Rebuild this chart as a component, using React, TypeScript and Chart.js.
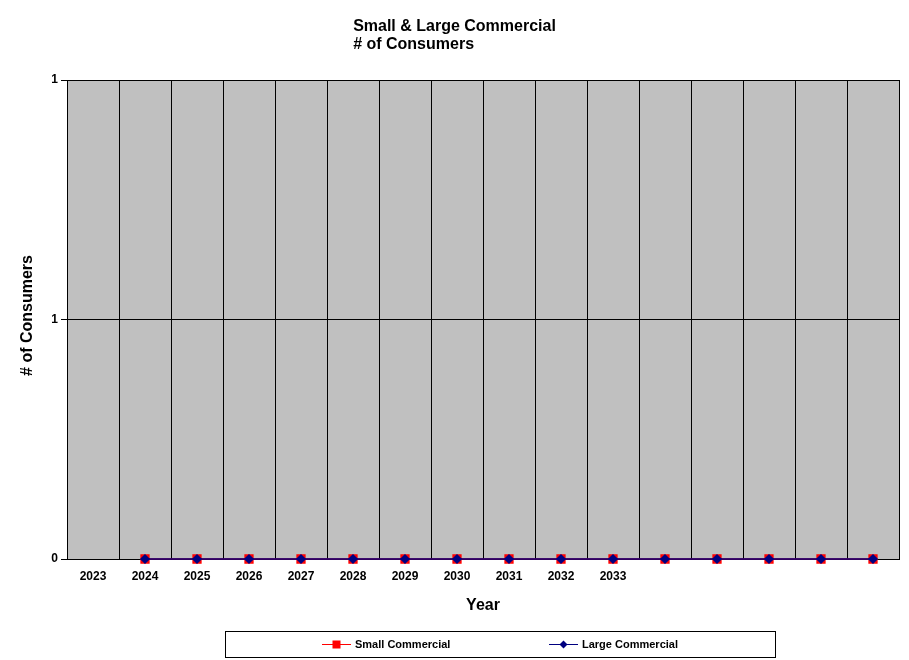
import React, { useEffect, useRef } from "react";
import { Chart, registerables } from "chart.js";

Chart.register(...registerables);

const categories = ["2023", "2024", "2025", "2026", "2027", "2028", "2029", "2030", "2031", "2032", "2033", "", "", "", "", ""];
const smallCommercial = [null, 0, 0, 0, 0, 0, 0, 0, 0, 0, 0, 0, 0, 0, 0, 0];
const largeCommercial = [null, 0, 0, 0, 0, 0, 0, 0, 0, 0, 0, 0, 0, 0, 0, 0];
const titleLines = ["Small & Large Commercial", "# of Consumers"];
const xTitle = "Year";
const yTitle = "# of Consumers";
const seriesNames = ["Small Commercial", "Large Commercial"];
const seriesColors = ["#FF0000", "#000080"];

const FONT = "'Liberation Sans', Arial, sans-serif";

const decorPlugin = {
  id: "decor",
  beforeDraw(chart: any) {
    const { ctx, chartArea } = chart;
    ctx.save();
    ctx.fillStyle = "#FFFFFF";
    ctx.fillRect(0, 0, chart.width, chart.height);
    ctx.fillStyle = "#C0C0C0";
    ctx.fillRect(chartArea.left, chartArea.top, chartArea.right - chartArea.left, chartArea.bottom - chartArea.top);
    ctx.restore();
  },
  afterDraw(chart: any) {
    const { ctx, chartArea } = chart;
    ctx.save();
    ctx.fillStyle = "#000";
    ctx.font = `bold 16px ${FONT}`;
    const w = Math.max(...titleLines.map((t) => ctx.measureText(t).width));
    const tx = chart.width / 2 - w / 2;
    ctx.textAlign = "left";
    ctx.textBaseline = "middle";
    titleLines.forEach((t, i) => ctx.fillText(t, tx, 27 + i * 18));

    ctx.textAlign = "center";
    ctx.fillText(xTitle, (chartArea.left + chartArea.right) / 2, chartArea.bottom + 47);

    ctx.save();
    ctx.translate(28, (chartArea.top + chartArea.bottom) / 2 - 4);
    ctx.rotate(-Math.PI / 2);
    ctx.fillText(yTitle, 0, 0);
    ctx.restore();

    const bx = 225.5, by = 631.5, bw = 550, bh = 26;
    ctx.strokeStyle = "#000";
    ctx.lineWidth = 1;
    ctx.strokeRect(bx, by, bw, bh);
    ctx.font = `bold 11px ${FONT}`;
    ctx.textAlign = "left";
    const cy = by + bh / 2;
    const starts = [322, 549];
    seriesNames.forEach((name, i) => {
      const x0 = starts[i];
      ctx.strokeStyle = seriesColors[i];
      ctx.lineWidth = 1;
      ctx.beginPath();
      ctx.moveTo(x0, cy);
      ctx.lineTo(x0 + 29, cy);
      ctx.stroke();
      ctx.fillStyle = seriesColors[i];
      const mx = x0 + 14.5;
      if (i === 0) {
        ctx.fillRect(mx - 4, cy - 4, 8, 8);
      } else {
        ctx.beginPath();
        ctx.moveTo(mx, cy - 4);
        ctx.lineTo(mx + 4, cy);
        ctx.lineTo(mx, cy + 4);
        ctx.lineTo(mx - 4, cy);
        ctx.closePath();
        ctx.fill();
      }
      ctx.fillStyle = "#000";
      ctx.fillText(name, x0 + 33, cy + 0.5);
    });
    ctx.restore();
  },
};

export default function App() {
  const ref = useRef<HTMLCanvasElement | null>(null);
  useEffect(() => {
    if (!ref.current) return;
    const chart = new Chart(ref.current, {
      type: "line",
      data: {
        labels: categories,
        datasets: [
          {
            label: seriesNames[0],
            data: smallCommercial,
            borderColor: seriesColors[0],
            backgroundColor: seriesColors[0],
            pointBackgroundColor: seriesColors[0],
            pointBorderColor: seriesColors[0],
            pointStyle: "rect",
            pointRadius: 5.5,
            borderWidth: 1.5,
            clip: false,
            order: 2,
          } as any,
          {
            label: seriesNames[1],
            data: largeCommercial,
            borderColor: seriesColors[1],
            backgroundColor: seriesColors[1],
            pointBackgroundColor: seriesColors[1],
            pointBorderColor: seriesColors[1],
            pointStyle: "rectRot",
            pointRadius: 4,
            borderWidth: 1.5,
            clip: false,
            order: 1,
          } as any,
        ],
      },
      options: {
        animation: false,
        responsive: true,
        maintainAspectRatio: false,
        layout: { padding: { top: 80, right: 10, left: 0, bottom: 0 } },
        plugins: {
          legend: { display: false },
          title: { display: false },
          tooltip: { enabled: false },
        },
        scales: {
          x: {
            type: "category",
            offset: true,
            grid: { offset: true, color: "#000", drawTicks: false, lineWidth: 1 },
            border: { color: "#000", width: 1 },
            ticks: {
              autoSkip: false,
              maxRotation: 0,
              color: "#000",
              padding: 10,
              font: { family: FONT, size: 12, weight: "bold" },
            },
            afterFit: (s: any) => {
              s.height = 101;
            },
          },
          y: {
            min: 0,
            max: 1,
            grid: { color: "#000", drawTicks: true, tickLength: 6, lineWidth: 1 },
            border: { color: "#000", width: 1 },
            ticks: {
              stepSize: 0.5,
              color: "#000",
              padding: 3,
              font: { family: FONT, size: 12, weight: "bold" },
              callback: (v: any) => String(Math.round(Number(v))),
            },
            afterFit: (s: any) => {
              s.width = 67;
            },
          },
        },
      } as any,
      plugins: [decorPlugin],
    });
    return () => chart.destroy();
  }, []);
  return (
    <div style={{ position: "absolute", left: 0, top: 0, width: 909, height: 660 }}>
      <canvas ref={ref} />
    </div>
  );
}
